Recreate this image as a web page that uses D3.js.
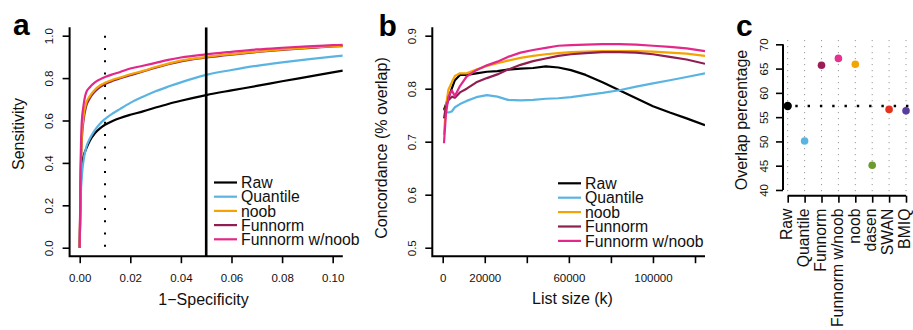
<!DOCTYPE html>
<html>
<head>
<meta charset="utf-8">
<script src="https://cdn.jsdelivr.net/npm/d3@7"></script>
<style>
  html, body { margin: 0; padding: 0; background: #fff; }
  svg { display: block; font-family: "Liberation Sans", Arial, Helvetica, sans-serif; }
</style>
</head>
<body>
<svg id="chart" width="913" height="330"></svg>
<script>
// ---- Panel a: ROC-style curves (1-Specificity vs Sensitivity) ----
const rocFpr = [0, 0.0003, 0.0008, 0.0015, 0.0025, 0.004, 0.006, 0.008, 0.01, 0.013, 0.016, 0.02,
                0.025, 0.03, 0.035, 0.04, 0.05, 0.06, 0.07, 0.08, 0.09, 0.1, 0.104];
const rocRaw      = [0, 0.25, 0.38, 0.43, 0.465, 0.505, 0.54, 0.563, 0.58, 0.598, 0.612, 0.627,
                     0.643, 0.661, 0.678, 0.693, 0.72, 0.742, 0.763, 0.785, 0.806, 0.827, 0.835];
const rocQuantile = [0, 0.2, 0.33, 0.41, 0.47, 0.515, 0.555, 0.585, 0.607, 0.633, 0.655, 0.683,
                     0.712, 0.738, 0.76, 0.78, 0.815, 0.838, 0.858, 0.874, 0.888, 0.901, 0.906];
const rocNoob     = [0, 0.3, 0.52, 0.62, 0.68, 0.715, 0.745, 0.765, 0.778, 0.792, 0.803, 0.818,
                     0.834, 0.852, 0.868, 0.882, 0.9, 0.913, 0.925, 0.935, 0.943, 0.951, 0.953];
const rocFunnorm  = [0, 0.28, 0.5, 0.6, 0.665, 0.705, 0.737, 0.758, 0.772, 0.787, 0.799, 0.814,
                     0.831, 0.849, 0.865, 0.879, 0.897, 0.911, 0.923, 0.933, 0.941, 0.949, 0.951];
const rocFunNoob  = [0, 0.35, 0.59, 0.67, 0.73, 0.757, 0.78, 0.794, 0.805, 0.818, 0.829, 0.845,
                     0.858, 0.872, 0.886, 0.897, 0.912, 0.924, 0.935, 0.943, 0.95, 0.955, 0.957];
const rocXTicks = [0, 0.02, 0.04, 0.06, 0.08, 0.10];
const rocXTickLabels = ["0.00", "0.02", "0.04", "0.06", "0.08", "0.10"];
const rocYTicks = [0, 0.2, 0.4, 0.6, 0.8, 1.0];
const rocYTickLabels = ["0.0", "0.2", "0.4", "0.6", "0.8", "1.0"];
const rocDotted = 0.01;
const rocSolid = 0.05;

// ---- Panel b: concordance vs list size ----
const listSize = [600, 1500, 2700, 4300, 5800, 8200, 11400, 16000, 21000, 26000, 31000, 37000,
                  43000, 49000, 55000, 61000, 68000, 76000, 84000, 92000, 100000, 108000, 116000, 124750];
const concRaw      = [0.76, 0.77, 0.782, 0.80, 0.816, 0.826, 0.826, 0.829, 0.832, 0.833, 0.836, 0.838,
                      0.839, 0.842, 0.84, 0.835, 0.826, 0.812, 0.797, 0.782, 0.767, 0.755, 0.744, 0.731];
const concQuantile = [0.76, 0.756, 0.755, 0.757, 0.765, 0.771, 0.777, 0.784, 0.788, 0.785, 0.779, 0.778,
                      0.779, 0.781, 0.782, 0.784, 0.788, 0.792, 0.797, 0.804, 0.81, 0.816, 0.822, 0.829];
const concNoob     = [0.713, 0.766, 0.798, 0.812, 0.824, 0.829, 0.829, 0.836, 0.843, 0.848, 0.853, 0.858,
                      0.862, 0.865, 0.867, 0.869, 0.87, 0.871, 0.871, 0.871, 0.87, 0.868, 0.866, 0.862];
const concFunnorm  = [0.744, 0.765, 0.778, 0.785, 0.783, 0.793, 0.80, 0.812, 0.82, 0.827, 0.836, 0.845,
                      0.852, 0.857, 0.862, 0.865, 0.867, 0.869, 0.869, 0.868, 0.865, 0.86, 0.855, 0.847];
const concFunNoob  = [0.697, 0.75, 0.785, 0.797, 0.786, 0.805, 0.823, 0.835, 0.844, 0.851, 0.86, 0.868,
                      0.873, 0.877, 0.881, 0.882, 0.883, 0.884, 0.884, 0.883, 0.881, 0.879, 0.876, 0.871];
const concXTicks = [0, 20000, 40000, 60000, 80000, 100000, 120000];
const concXTickLabels = ["0", "20000", "", "60000", "", "100000", ""];
const concYTicks = [0.5, 0.6, 0.7, 0.8, 0.9];
const concYTickLabels = ["0.5", "0.6", "0.7", "0.8", "0.9"];

// ---- Panel c: overlap percentage per method ----
const overlapMethods = ["Raw", "Quantile", "Funnorm", "Funnorm w/noob", "noob", "dasen", "SWAN", "BMIQ"];
const overlapValues  = [57.3, 50.1, 65.7, 67.1, 65.9, 45.1, 56.6, 56.3];
const overlapYTicks = [40, 45, 50, 55, 60, 65, 70];

// ---- Shared series styling ----
const seriesNames = ["Raw", "Quantile", "noob", "Funnorm", "Funnorm w/noob"];
const seriesColors = {
  "Raw": "#000000",
  "Quantile": "#5ab4e2",
  "noob": "#f4a300",
  "Funnorm": "#8f1f50",
  "Funnorm w/noob": "#e2288a"
};
const pointColors = {
  "Raw": "#000000",
  "Quantile": "#5ab4e2",
  "Funnorm": "#9b1d57",
  "Funnorm w/noob": "#e5318f",
  "noob": "#f4a300",
  "dasen": "#6b9a2e",
  "SWAN": "#e4321d",
  "BMIQ": "#5a3c9e"
};

const svg = d3.select("#chart");
const TICK_FONT = 11.5, TITLE_FONT = 16, LEGEND_FONT = 15.8;

function panelLabel(txt, x, y) {
  svg.append("text").attr("x", x).attr("y", y)
    .attr("font-size", 30).attr("font-weight", "bold").text(txt);
}

// L-shaped frame with R-like axes
function drawFrame(g, x, y, xTicks, xLabels, yTicks, yLabels) {
  const [x0, x1] = x.range();
  const [y0, y1] = y.range();
  const fmtX = d => xLabels[xTicks.indexOf(d)];
  const fmtY = d => yLabels[yTicks.indexOf(d)];

  const ax = g.append("g").attr("transform", `translate(0,${y0})`)
    .call(d3.axisBottom(x).tickValues(xTicks).tickFormat(fmtX).tickSize(7).tickSizeOuter(0));
  ax.select(".domain").remove();
  ax.selectAll("line").attr("stroke-width", 1.6);
  ax.selectAll("text").attr("y", 25.5).attr("dy", 0).attr("font-size", TICK_FONT)
    .attr("font-family", null).attr("fill", "#111");

  const ay = g.append("g").attr("transform", `translate(${x0},0)`)
    .call(d3.axisLeft(y).tickValues(yTicks).tickFormat(fmtY).tickSize(7).tickSizeOuter(0));
  ay.select(".domain").remove();
  ay.selectAll("line").attr("stroke-width", 1.6);
  ay.selectAll("text").attr("x", null).attr("dy", 0).attr("text-anchor", "middle")
    .attr("transform", "translate(-16.5,0) rotate(-90)")
    .attr("font-size", TICK_FONT).attr("font-family", null).attr("fill", "#111");

  g.append("path")
    .attr("d", `M${x0},${y1}V${y0}H${x1}`)
    .attr("fill", "none").attr("stroke", "#000").attr("stroke-width", 2);
}

function drawLegend(g, x, y, step) {
  seriesNames.forEach((name, i) => {
    const yy = y + i * step;
    g.append("line").attr("x1", x).attr("x2", x + 23).attr("y1", yy).attr("y2", yy)
      .attr("stroke", seriesColors[name]).attr("stroke-width", 2.2);
    g.append("text").attr("x", x + 27).attr("y", yy).attr("dy", "0.36em")
      .attr("font-size", LEGEND_FONT).attr("fill", "#111").text(name);
  });
}

// ================= Panel a =================
{
  const g = svg.append("g");
  const x = d3.scaleLinear().domain([-0.004, 0.104]).range([69.6, 342.8]);
  const y = d3.scaleLinear().domain([-0.04, 1.04]).range([256.2, 27.2]);

  svg.append("clipPath").attr("id", "clipA").append("rect")
    .attr("x", 69.6).attr("y", 27.2).attr("width", 342.8 - 69.6).attr("height", 256.2 - 27.2);

  const series = {
    "Raw": rocRaw, "Quantile": rocQuantile, "noob": rocNoob,
    "Funnorm": rocFunnorm, "Funnorm w/noob": rocFunNoob
  };
  const line = d3.line().x((d, i) => x(rocFpr[i])).y(d => y(d)).curve(d3.curveMonotoneX);
  const plot = g.append("g").attr("clip-path", "url(#clipA)");

  // threshold guides
  plot.append("line").attr("x1", x(rocDotted)).attr("x2", x(rocDotted))
    .attr("y1", y(1)).attr("y2", y(0))
    .attr("stroke", "#000").attr("stroke-width", 2).attr("stroke-dasharray", "2,10.3");

  ["Raw", "Quantile", "Funnorm", "noob", "Funnorm w/noob"].forEach(name => {
    plot.append("path").datum(series[name]).attr("d", line)
      .attr("fill", "none").attr("stroke", seriesColors[name]).attr("stroke-width", 2.2);
  });

  plot.append("line").attr("x1", x(rocSolid)).attr("x2", x(rocSolid))
    .attr("y1", 27.2).attr("y2", 256.2).attr("stroke", "#000").attr("stroke-width", 2.6);

  drawFrame(g, x, y, rocXTicks, rocXTickLabels, rocYTicks, rocYTickLabels);
  drawLegend(g, 214, 182.5, 14.2);

  g.append("text").attr("x", 203.5).attr("y", 304.5).attr("text-anchor", "middle")
    .attr("font-size", TITLE_FONT).attr("fill", "#111").text("1\u2212Specificity");
  g.append("text").attr("transform", "translate(24,134) rotate(-90)").attr("text-anchor", "middle")
    .attr("font-size", TITLE_FONT).attr("fill", "#111").text("Sensitivity");
  panelLabel("a", 13, 35);
}

// ================= Panel b =================
{
  const g = svg.append("g");
  const x = d3.scaleLinear().domain([-4950, 124750]).range([432.3, 705]);
  const y = d3.scaleLinear().domain([0.484, 0.916]).range([256.2, 27.2]);

  svg.append("clipPath").attr("id", "clipB").append("rect")
    .attr("x", 432.3).attr("y", 27.2).attr("width", 705 - 432.3).attr("height", 256.2 - 27.2);

  const series = {
    "Raw": concRaw, "Quantile": concQuantile, "noob": concNoob,
    "Funnorm": concFunnorm, "Funnorm w/noob": concFunNoob
  };
  const line = d3.line().x((d, i) => x(listSize[i])).y(d => y(d));
  const plot = g.append("g").attr("clip-path", "url(#clipB)");
  ["Raw", "Quantile", "noob", "Funnorm", "Funnorm w/noob"].forEach(name => {
    plot.append("path").datum(series[name]).attr("d", line)
      .attr("fill", "none").attr("stroke", seriesColors[name]).attr("stroke-width", 2.2)
      .attr("stroke-linejoin", "round");
  });

  drawFrame(g, x, y, concXTicks, concXTickLabels, concYTicks, concYTickLabels);
  drawLegend(g, 558, 183.3, 14.4);

  g.append("text").attr("x", 572.5).attr("y", 303.5).attr("text-anchor", "middle")
    .attr("font-size", TITLE_FONT).attr("fill", "#111").text("List size (k)");
  g.append("text").attr("transform", "translate(387,148) rotate(-90)").attr("text-anchor", "middle")
    .attr("font-size", TITLE_FONT).attr("fill", "#111").text("Concordance (% overlap)");
  panelLabel("b", 378.5, 35.5);
}

// ================= Panel c =================
{
  const g = svg.append("g");
  const x = d3.scalePoint().domain(overlapMethods).range([787.7, 906]);
  const y = d3.scaleLinear().domain([38.8, 71.2]).range([195.8, 38.5]);
  const left = 783, right = 910.7, top = 38.5, bottom = 195.8;

  // vertical dotted guides at each method
  g.selectAll(".vgrid").data(overlapMethods).join("line")
    .attr("x1", d => x(d)).attr("x2", d => x(d)).attr("y1", top + 1.5).attr("y2", bottom - 4)
    .attr("stroke", "#9a9a9a").attr("stroke-width", 1).attr("stroke-dasharray", "1.2,4.8");

  // reference line at the Raw value
  g.append("line").attr("x1", left).attr("x2", right)
    .attr("y1", y(overlapValues[0])).attr("y2", y(overlapValues[0]))
    .attr("stroke", "#000").attr("stroke-width", 2.4).attr("stroke-dasharray", "2.4,9.9");

  g.selectAll(".pt").data(overlapMethods).join("circle")
    .attr("cx", d => x(d)).attr("cy", (d, i) => y(overlapValues[i]))
    .attr("r", (d, i) => i === 0 ? 4.2 : 3.8)
    .attr("fill", d => pointColors[d]);

  // y axis (spans tick range only)
  const ay = g.append("g").attr("transform", `translate(${left},0)`)
    .call(d3.axisLeft(y).tickValues(overlapYTicks).tickFormat(d3.format("d")).tickSize(7).tickSizeOuter(0));
  ay.select(".domain").remove();
  ay.selectAll("line").attr("stroke-width", 1.6);
  ay.selectAll("text").attr("x", null).attr("dy", 0).attr("text-anchor", "middle")
    .attr("transform", "translate(-15,0) rotate(-90)")
    .attr("font-size", TICK_FONT).attr("font-family", null).attr("fill", "#111");
  g.append("line").attr("x1", left).attr("x2", left)
    .attr("y1", y(overlapYTicks[0])).attr("y2", y(overlapYTicks[overlapYTicks.length - 1]))
    .attr("stroke", "#000").attr("stroke-width", 2);

  // x axis (spans categories)
  const xAxisY = 195.7;
  const ax = g.append("g").attr("transform", `translate(0,${xAxisY})`)
    .call(d3.axisBottom(x).tickSize(7).tickSizeOuter(0).tickFormat(""));
  ax.select(".domain").remove();
  ax.selectAll("line").attr("stroke-width", 1.6);
  g.append("line").attr("x1", x(overlapMethods[0])).attr("x2", x(overlapMethods[overlapMethods.length - 1]))
    .attr("y1", xAxisY).attr("y2", xAxisY).attr("stroke", "#000").attr("stroke-width", 2);

  g.selectAll(".cat").data(overlapMethods).join("text")
    .attr("transform", d => `translate(${x(d) + 4.2},208.5) rotate(-90)`)
    .attr("text-anchor", "end").attr("font-size", LEGEND_FONT).attr("fill", "#111")
    .text(d => d);

  g.append("text").attr("transform", "translate(746.5,120) rotate(-90)").attr("text-anchor", "middle")
    .attr("font-size", TITLE_FONT).attr("fill", "#111").text("Overlap percentage");
  panelLabel("c", 736, 36);
}
</script>
</body>
</html>
